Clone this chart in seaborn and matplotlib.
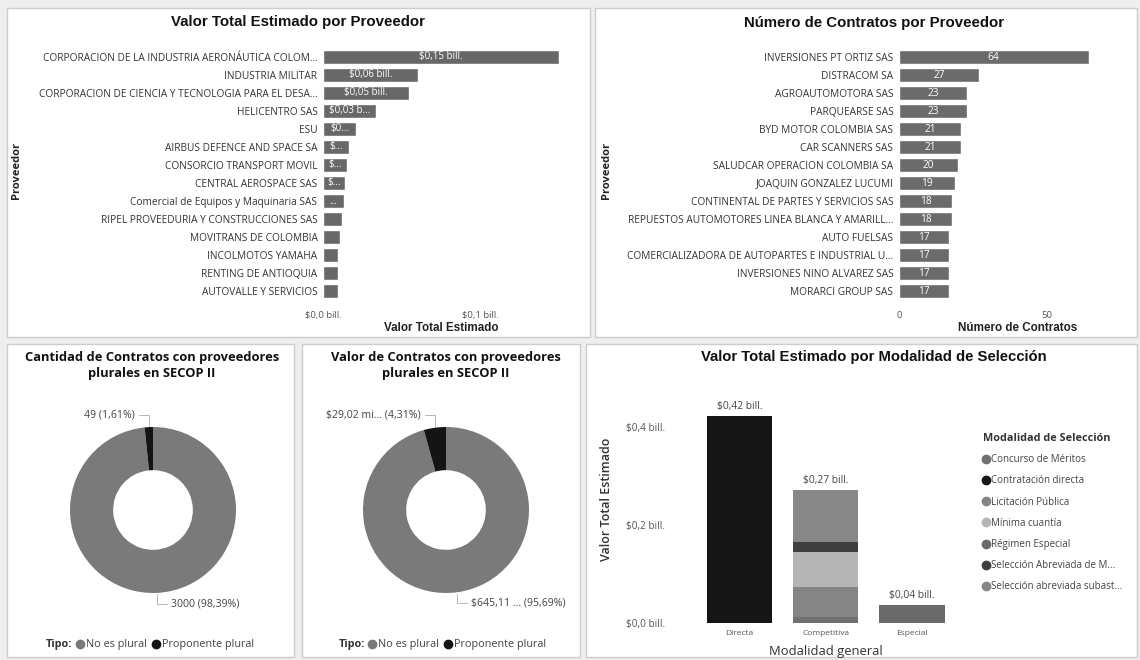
import matplotlib
matplotlib.use("Agg")
import matplotlib.pyplot as plt
import seaborn as sns
import pandas as pd
import numpy as np
from matplotlib.patches import Rectangle
from matplotlib.lines import Line2D

# ---------------- data ----------------
prov_valor_names = [
    "CORPORACION DE LA INDUSTRIA AERONÁUTICA COLOM...",
    "INDUSTRIA MILITAR",
    "CORPORACION DE CIENCIA Y TECNOLOGIA PARA EL DESA...",
    "HELICENTRO SAS",
    "ESU",
    "AIRBUS DEFENCE AND SPACE SA",
    "CONSORCIO TRANSPORT MOVIL",
    "CENTRAL AEROSPACE SAS",
    "Comercial de Equipos y Maquinaria SAS",
    "RIPEL PROVEEDURIA Y CONSTRUCCIONES SAS",
    "MOVITRANS DE COLOMBIA",
    "INCOLMOTOS YAMAHA",
    "RENTING DE ANTIOQUIA",
    "AUTOVALLE Y SERVICIOS",
]
prov_valor_values = [0.150, 0.0605, 0.055, 0.034, 0.021, 0.0166, 0.0153,
                     0.0142, 0.0132, 0.0119, 0.0106, 0.0098, 0.0098, 0.0098]
prov_valor_labels = ["$0,15 bill.", "$0,06 bill.", "$0,05 bill.", "$0,03 b...",
                     "$0...", "$...", "$...", "$...", "...", "", "", "", "", ""]
valor_ticks = [0.0, 0.1]
valor_tick_labels = ["$0,0 bill.", "$0,1 bill."]

prov_num_names = [
    "INVERSIONES PT ORTIZ SAS",
    "DISTRACOM SA",
    "AGROAUTOMOTORA SAS",
    "PARQUEARSE SAS",
    "BYD MOTOR COLOMBIA SAS",
    "CAR SCANNERS SAS",
    "SALUDCAR OPERACION COLOMBIA SA",
    "JOAQUIN GONZALEZ LUCUMI",
    "CONTINENTAL DE PARTES Y SERVICIOS SAS",
    "REPUESTOS AUTOMOTORES LINEA BLANCA Y AMARILL...",
    "AUTO FUELSAS",
    "COMERCIALIZADORA DE AUTOPARTES E INDUSTRIAL U...",
    "INVERSIONES NINO ALVAREZ SAS",
    "MORARCI GROUP SAS",
]
prov_num_values = [64, 27, 23, 23, 21, 21, 20, 19, 18, 18, 17, 17, 17, 17]
num_ticks = [0, 50]

tipo_labels = ["No es plural", "Proponente plural"]
cantidad_values = [3000, 49]
cantidad_text = ["3000 (98,39%)", "49 (1,61%)"]
valor_plural_values = [645.11, 29.02]
valor_plural_text = ["$645,11 ... (95,69%)", "$29,02 mi... (4,31%)"]

modalidad_general = ["Directa", "Competitiva", "Competitiva", "Competitiva",
                     "Competitiva", "Competitiva", "Especial"]
modalidad_seleccion = ["Contratación directa", "Concurso de Méritos", "Licitación Pública",
                       "Mínima cuantía", "Selección Abreviada de M...",
                       "Selección abreviada subast...", "Régimen Especial"]
modalidad_valor = [0.423, 0.012, 0.061, 0.072, 0.020, 0.107, 0.037]
modalidad_order = ["Concurso de Méritos", "Contratación directa", "Licitación Pública",
                   "Mínima cuantía", "Régimen Especial", "Selección Abreviada de M...",
                   "Selección abreviada subast..."]
modalidad_colors = ["#707070", "#151515", "#858585", "#b5b5b5", "#6a6a6a", "#3e3e3e", "#878787"]
general_order = ["Directa", "Competitiva", "Especial"]
mod_ticks = [0.0, 0.2, 0.4]
mod_tick_labels = ["$0,0 bill.", "$0,2 bill.", "$0,4 bill."]

# ---------------- setup ----------------
sns.set_theme(style="white")
plt.rcParams["font.family"] = ["Open Sans", "DejaVu Sans"]
W, H = 1140, 660
fig = plt.figure(figsize=(W / 100, H / 100), dpi=100, facecolor="#eeeeee")


def px_rect(x0, y0, x1, y1):
    return [x0 / W, 1 - y1 / H, (x1 - x0) / W, (y1 - y0) / H]


def fx(x):
    return x / W


def fy(y):
    return 1 - y / H


# panels
for (x0, y0, x1, y1) in [(7, 8, 590, 337), (595, 8, 1137, 337), (7, 344, 294, 657),
                         (302, 344, 580, 657), (586, 344, 1137, 657)]:
    fig.add_artist(Rectangle((fx(x0), fy(y1)), (x1 - x0) / W, (y1 - y0) / H,
                             transform=fig.transFigure, facecolor="white",
                             edgecolor="#cccccc", lw=1.0, zorder=-5))

TITLE_FONT = ["Liberation Sans", "DejaVu Sans"]
tick_col = "#555555"
lab_col = "#333333"

# ---------------- top-left ----------------
ax1 = fig.add_axes(px_rect(323, 48, 558.5, 300))
ax1.set_facecolor("none")
df1 = pd.DataFrame({"Proveedor": prov_valor_names, "Valor": prov_valor_values})
sns.barplot(data=df1, y="Proveedor", x="Valor", orient="h", color="#686868",
            saturation=1, width=0.76, ax=ax1)
ax1.set_xlim(0, 0.15)
ax1.set_ylim(13.5, -0.5)
ax1.bar_label(ax1.containers[0], labels=prov_valor_labels, label_type="center",
              color="white", fontsize=7)
ax1.set_xticks(valor_ticks, valor_tick_labels)
ax1.tick_params(axis="x", labelsize=6.8, colors=tick_col, length=0, pad=8)
ax1.tick_params(axis="y", labelsize=7.3, colors=lab_col, length=0, pad=4)
ax1.set_xlabel("")
ax1.set_ylabel("")
sns.despine(ax=ax1, left=True, bottom=True)
fig.text(fx(298), fy(22), "Valor Total Estimado por Proveedor", ha="center", va="center",
         fontsize=10.8, fontweight="bold", family=TITLE_FONT, color="#111111")
fig.text(fx(441), fy(328), "Valor Total Estimado", ha="center", va="center",
         fontsize=8.4, fontweight="bold", family=TITLE_FONT, color="#222222")
fig.text(fx(17), fy(170), "Proveedor", ha="center", va="center", rotation=90,
         fontsize=8, fontweight="bold", color="#222222")

# ---------------- top-right ----------------
ax2 = fig.add_axes(px_rect(899, 48, 1088.5, 300))
ax2.set_facecolor("none")
df2 = pd.DataFrame({"Proveedor": prov_num_names, "Contratos": prov_num_values})
sns.barplot(data=df2, y="Proveedor", x="Contratos", orient="h", color="#6b6b6b",
            saturation=1, width=0.76, ax=ax2)
ax2.set_xlim(0, 64)
ax2.set_ylim(13.5, -0.5)
ax2.bar_label(ax2.containers[0], label_type="center", color="white", fontsize=7.3)
ax2.set_xticks(num_ticks, [str(t) for t in num_ticks])
ax2.tick_params(axis="x", labelsize=6.8, colors=tick_col, length=0, pad=8)
ax2.tick_params(axis="y", labelsize=7.3, colors=lab_col, length=0, pad=4)
ax2.set_xlabel("")
ax2.set_ylabel("")
sns.despine(ax=ax2, left=True, bottom=True)
fig.text(fx(874), fy(23), "Número de Contratos por Proveedor", ha="center", va="center",
         fontsize=10.8, fontweight="bold", family=TITLE_FONT, color="#111111")
fig.text(fx(1018), fy(328), "Número de Contratos", ha="center", va="center",
         fontsize=8.4, fontweight="bold", family=TITLE_FONT, color="#222222")
fig.text(fx(607), fy(170), "Proveedor", ha="center", va="center", rotation=90,
         fontsize=8, fontweight="bold", color="#222222")


# ---------------- donuts ----------------
def donut(cx, cy, r, values, texts, title, tcx, tipo_x, leg_x):
    ax = fig.add_axes(px_rect(cx - r, cy - r, cx + r, cy + r))
    wedges, _ = ax.pie(values, colors=["#7a7a7a", "#141414"], startangle=90,
                       counterclock=False,
                       wedgeprops=dict(width=0.52, edgecolor="none"))
    ax.set_xlim(-1, 1)
    ax.set_ylim(-1, 1)
    for w, txt, side in zip(wedges, texts, ["big", "small"]):
        ang = np.deg2rad((w.theta1 + w.theta2) / 2)
        px, py = np.cos(ang), np.sin(ang)
        if side == "small":
            xt, yt, ha = px - 0.17, py + 0.15, "right"
        else:
            xt, yt, ha = px + 0.17, py - 0.13, "left"
        ax.annotate(txt, xy=(px, py), xytext=(xt, yt), textcoords="data",
                    ha=ha, va="center", fontsize=7.6, color="#444444",
                    annotation_clip=False,
                    arrowprops=dict(arrowstyle="-", color="#aaaaaa", lw=0.6,
                                    shrinkA=1, shrinkB=1,
                                    connectionstyle="angle,angleA=0,angleB=90"))
    fig.text(fx(tcx), fy(366), title, ha="center", va="center", fontsize=9.3,
             fontweight="bold", color="#111111", linespacing=1.3)
    fig.text(fx(tipo_x), fy(645), "Tipo:", ha="left", va="center", fontsize=7.8,
             fontweight="bold", color="#333333")
    handles = [Line2D([], [], marker="o", ls="", color=c, markersize=6)
               for c in ["#7a7a7a", "#141414"]]
    fig.legend(handles, tipo_labels, loc="center left", ncol=2,
               bbox_to_anchor=(fx(leg_x), fy(645)), frameon=False,
               fontsize=7.8, handlelength=0.6, handletextpad=0.25,
               columnspacing=0.5, labelcolor="#444444", borderpad=0,
               borderaxespad=0)


donut(153, 510, 83, cantidad_values, cantidad_text,
      "Cantidad de Contratos con proveedores\nplurales en SECOP II", 152, 46, 77)
donut(446, 510, 83, valor_plural_values, valor_plural_text,
      "Valor de Contratos con proveedores\nplurales en SECOP II", 446, 339, 369)

# ---------------- bottom-right stacked ----------------
ax5 = fig.add_axes(px_rect(680, 403, 970, 622.7))
ax5.set_facecolor("none")
df5 = pd.DataFrame({"general": pd.Categorical(modalidad_general, categories=general_order),
                    "seleccion": modalidad_seleccion, "valor": modalidad_valor})
pal = dict(zip(modalidad_order, modalidad_colors))
sns.histplot(data=df5, x="general", weights="valor", hue="seleccion",
             hue_order=modalidad_order[::-1], multiple="stack", palette=pal,
             shrink=0.755, alpha=1, linewidth=0, edgecolor="none",
             legend=False, ax=ax5)
ax5.set_ylim(0, 0.45)
ax5.set_xlim(-0.69, 2.672)
totals = df5.groupby("general", observed=True, sort=False)["valor"].sum().reindex(general_order)
for i, tot in enumerate(totals.values):
    ax5.text(i, tot + 0.008, "$" + f"{tot:.2f}".replace(".", ",") + " bill.",
             ha="center", va="bottom", fontsize=7.4, color="#444444")
ax5.set_xticks(range(len(general_order)), general_order)
ax5.set_yticks(mod_ticks, mod_tick_labels)
ax5.tick_params(axis="x", labelsize=6, colors=tick_col, length=0, pad=5)
ax5.tick_params(axis="y", labelsize=7.2, colors=tick_col, length=0, pad=11)
ax5.set_xlabel("")
ax5.set_ylabel("")
sns.despine(ax=ax5, left=True, bottom=True)
fig.text(fx(874), fy(357), "Valor Total Estimado por Modalidad de Selección", ha="center",
         va="center", fontsize=10.7, fontweight="bold", family=TITLE_FONT, color="#111111")
fig.text(fx(826), fy(651), "Modalidad general", ha="center", va="center",
         fontsize=9.4, color="#333333")
fig.text(fx(607), fy(499), "Valor Total Estimado", ha="center", va="center",
         rotation=90, fontsize=9, fontweight="semibold", color="#333333")
mhandles = [Line2D([], [], marker="o", ls="", color=c, markersize=6) for c in modalidad_colors]
leg = fig.legend(mhandles, modalidad_order, title="Modalidad de Selección",
                 loc="upper left", bbox_to_anchor=(fx(983), fy(433)), frameon=False,
                 fontsize=7, title_fontsize=7.8, alignment="left", handlelength=0.6,
                 handletextpad=0.25, labelspacing=1.05, borderpad=0, borderaxespad=0,
                 labelcolor="#444444")
leg.get_title().set_fontweight("bold")
leg.get_title().set_color("#333333")

fig.savefig("out.png", dpi=100, facecolor=fig.get_facecolor())
